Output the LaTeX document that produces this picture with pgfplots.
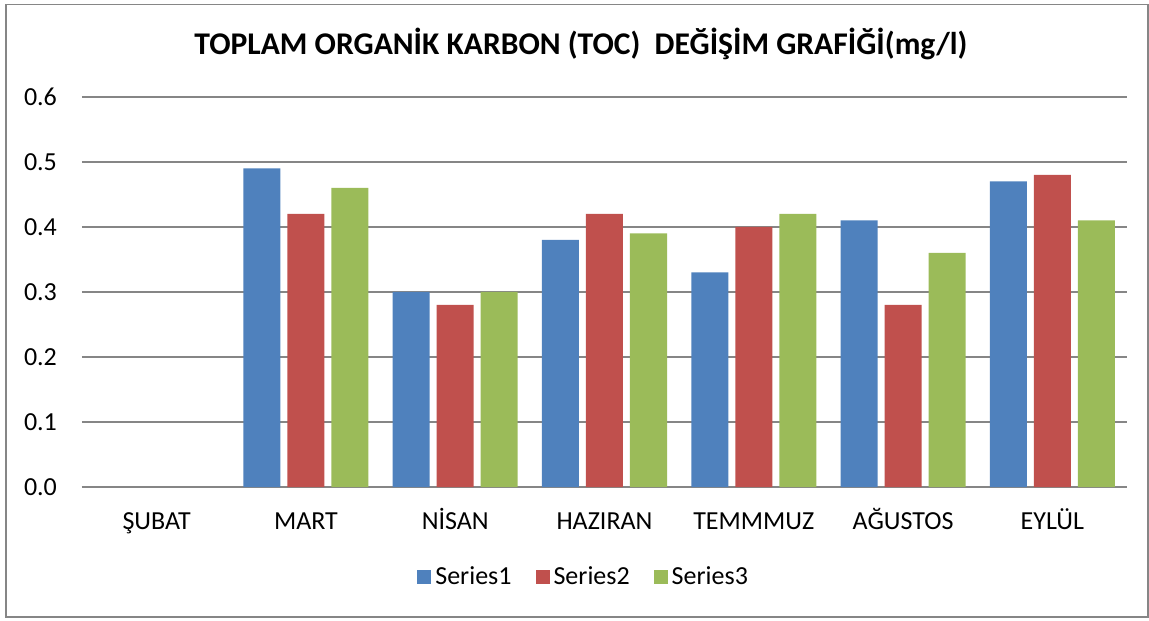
\documentclass[border=0pt]{standalone}
\usepackage{pgfplots}
\pgfplotsset{compat=1.18}
\usepackage{fontspec}
\setmainfont{Carlito}
\definecolor{sone}{HTML}{4F81BD}
\definecolor{stwo}{HTML}{C0504D}
\definecolor{sthree}{HTML}{9BBB59}
\definecolor{gridc}{HTML}{868686}
\begin{document}
\begin{tikzpicture}
  \begin{axis}[
      scale only axis,
      width=522.5pt, height=195pt,
      ybar=3.5pt,
      bar width=18.5pt,
      xmin=-0.5, xmax=6.5,
      ymin=0, ymax=0.6,
      xtick={0,1,2,3,4,5,6},
      xticklabels={ŞUBAT, MART, NİSAN, HAZIRAN, TEMMMUZ, AĞUSTOS, EYLÜL},
      ytick={0,0.1,0.2,0.3,0.4,0.5,0.6},
      yticklabel style={xshift=-9pt, /pgf/number format/.cd, fixed, fixed zerofill, precision=1, assume math mode=true},
      ymajorgrids,
      grid style={gridc, line width=0.6pt},
      axis x line*=bottom,
      axis y line*=left,
      y axis line style={draw=none},
      x axis line style={gridc, line width=0.6pt, -},
      major tick length=0pt,
      tick label style={font=\fontsize{13}{15}\selectfont, black},
      xticklabel style={anchor=base, yshift=-21pt},
      ytick style={draw=none},
      xtick style={draw=none},
      title={\bfseries TOPLAM ORGANİK KARBON (TOC)\ \ DEĞİŞİM GRAFİĞİ(mg/l)},
      title style={font=\fontsize{15.8}{18}\selectfont, at={(0.4775,1)}, anchor=base, yshift=15pt},
      legend style={at={(0.481,-0.231)}, anchor=center, draw=none, legend columns=3,
        font=\fontsize{13}{15}\selectfont,
        /tikz/every even column/.append style={column sep=10pt}},
      legend image code/.code={\fill[#1] (-2pt,-3.5pt) rectangle (5pt,3.5pt);},
    ]
    % Series1
    \addplot[fill=sone, draw=none] coordinates {
      (1,0.49) (2,0.30) (3,0.38) (4,0.33) (5,0.41) (6,0.47)
    };
    % Series2
    \addplot[fill=stwo, draw=none] coordinates {
      (1,0.42) (2,0.28) (3,0.42) (4,0.40) (5,0.28) (6,0.48)
    };
    % Series3
    \addplot[fill=sthree, draw=none] coordinates {
      (1,0.46) (2,0.30) (3,0.39) (4,0.42) (5,0.36) (6,0.41)
    };
    \legend{Series1, Series2, Series3}
  \end{axis}
  % chart area frame
  \draw[gridc, line width=0.8pt] (-38pt,-65pt) rectangle (533pt,241.25pt);
  \useasboundingbox (-41pt,-66.5pt) rectangle (533.5pt,243.5pt);
\end{tikzpicture}
\end{document}
